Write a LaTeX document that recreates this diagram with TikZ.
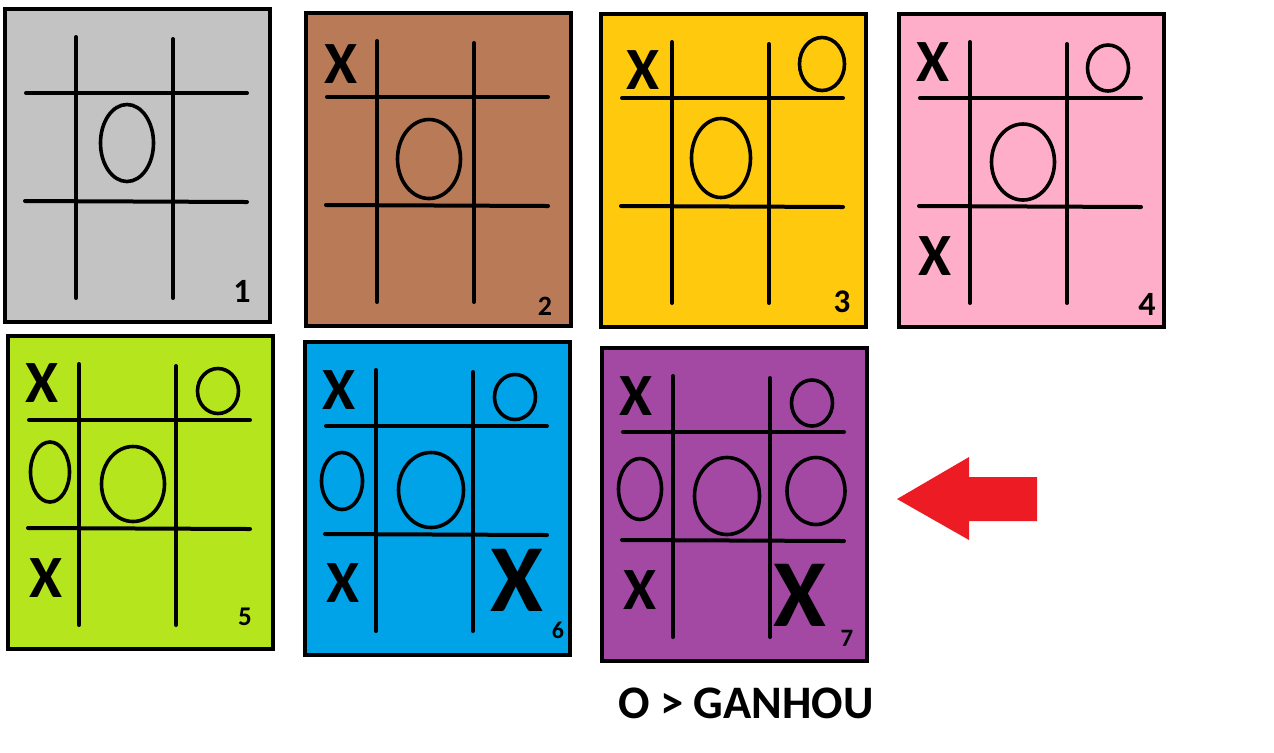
\documentclass[tikz,border=0pt]{standalone}
\usepackage{fontspec}
\setmainfont{Carlito}

\definecolor{boardgray}{HTML}{C3C3C3}
\definecolor{boardbrown}{HTML}{B97A57}
\definecolor{boardyellow}{HTML}{FFC90E}
\definecolor{boardpink}{HTML}{FFAEC9}
\definecolor{boardlime}{HTML}{B5E61D}
\definecolor{boardblue}{HTML}{00A2E8}
\definecolor{boardpurple}{HTML}{A349A4}
\definecolor{arrowred}{HTML}{ED1C24}

\tikzset{
  boardframe/.style={line width=2.2pt},
  gridline/.style={line width=2pt, line cap=round},
  omark/.style={line width=1.8pt},
  xmark/.style={inner sep=0pt, font=\fontsize{30}{30}\selectfont\bfseries},
  bigxmark/.style={inner sep=0pt, font=\fontsize{48}{48}\selectfont\bfseries},
  boardnum/.style={inner sep=0pt}
}

\begin{document}
\begin{tikzpicture}[x=0.5pt,y=-0.5pt]

    \useasboundingbox (0,0) rectangle (1274,752);

    % Boards with their grids
    \foreach \bx/\by/\bcol in {5/9/boardgray, 306/13/boardbrown, 601/14/boardyellow,
        899/14/boardpink, 8/336/boardlime, 305/342/boardblue, 602/348/boardpurple}
    {
        \begin{scope}[shift={(\bx,\by)}]
            \draw[boardframe, fill=\bcol] (0,0) rectangle (265,313);
            \draw[gridline] (71,28) -- (71,289);
            \draw[gridline] (168,30) -- (168,289);
            \draw[gridline] (21,84) -- (242,84);
            \draw[gridline] (20,192) -- (242,193);
        \end{scope}
    }

    % Move numbers
    \foreach \n/\x/\y/\s in {1/242/291/17, 2/545/306/14, 3/842/302/16.5, 4/1147/304/17,
        5/245/617/13.5, 6/558/630/12, 7/847/638/12.5}
        \node[boardnum, font=\fontsize{\s}{\s}\selectfont\bfseries] (num\n) at (\x,\y) {\n};

    % X marks
    \foreach \name/\x/\y in {x2/341/64, x3/643/70, x4a/933/62, x4b/935/256,
        x5a/42/383, x5b/46/578, x6a/339/390, x6b/343/583, x7a/636/396, x7b/640/590}
        \node[xmark] (\name) at (\x,\y) {X};
    \node[bigxmark] (x6c) at (517,580) {X};
    \node[bigxmark] (x7c) at (800,595) {X};

    % O marks
    \foreach \x/\y/\rx/\ry in {127/143/26.5/38.5, 429/159/31.5/39.5,
        822/64/22.5/26.5, 721/158/29.5/39.5,
        1108/68/20.5/23, 1023/162/31.5/38,
        218/391/20.5/22.5, 50/472/19.5/30, 133/484/31.5/37.5,
        515/397/20.5/22.5, 342/481/20.5/28.5, 431/490/32.5/37.5,
        812/403/20.5/23, 640/489/21.5/30.5, 727/496/32.5/38.5, 816/491/29/33.5}
        \draw[omark] (\x,\y) ellipse [x radius=\rx, y radius=\ry];

    % Arrow pointing at the winning board
    \fill[arrowred] (897,499) -- (969,457) -- (969,477) -- (1037,477)
        -- (1037,521) -- (969,521) -- (969,540) -- cycle;

    % Result
    \node[inner sep=0pt, font=\fontsize{23.3}{24}\selectfont\bfseries] (result) at (746,703) {O > GANHOU};

\end{tikzpicture}
\end{document}
